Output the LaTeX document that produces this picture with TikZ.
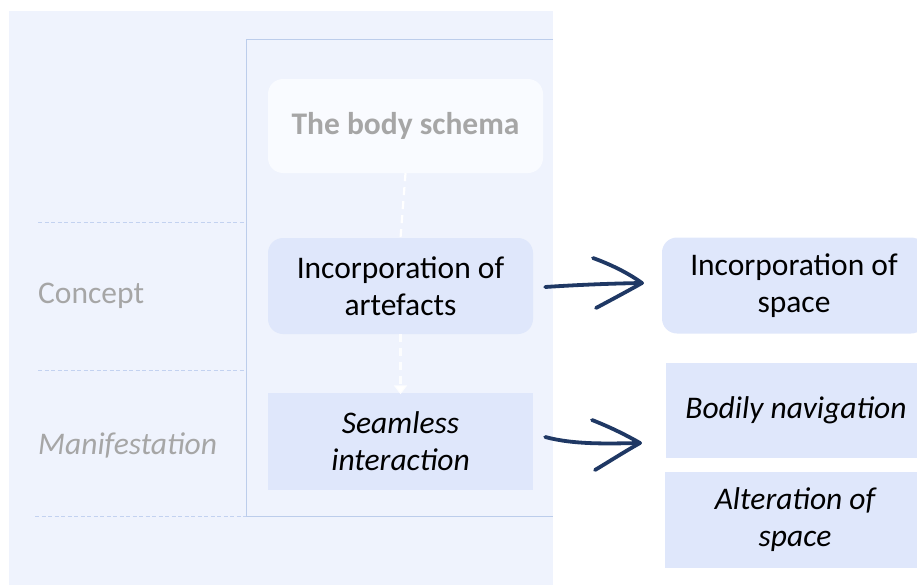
\documentclass[tikz,border=0pt]{standalone}
\usepackage{fontspec}
\setmainfont{Carlito}
\usetikzlibrary{arrows.meta}

\definecolor{panelbg}{HTML}{EFF3FD}
\definecolor{boxfill}{HTML}{DFE7FB}
\definecolor{topfill}{HTML}{F9FBFF}
\definecolor{frameline}{HTML}{BCCDEB}
\definecolor{guide}{HTML}{C3D2F0}
\definecolor{labelgray}{HTML}{A6A6A6}
\definecolor{navy}{HTML}{1F3864}

\tikzset{
  box/.style={fill=boxfill, draw=none, minimum width=265pt, minimum height=96pt,
    align=center, inner sep=0pt, font=\fontsize{31.5pt}{37.5pt}\selectfont},
  roundbox/.style={box, rounded corners=15pt},
  sidelabel/.style={anchor=west, text=labelgray, inner sep=0pt,
    font=\fontsize{31.5pt}{37pt}\selectfont},
  guideline/.style={draw=guide, line width=0.9pt, dash pattern=on 4pt off 2.5pt},
  frame/.style={draw=frameline, line width=1pt},
  flowlink/.style={draw=white, line width=2.2pt, dash pattern=on 8pt off 6pt},
  handarrow/.style={draw=navy, line width=3.8pt, line cap=round, line join=round},
}

\begin{document}
\begin{tikzpicture}[x=1pt, y=-1pt]
  \useasboundingbox (0,0) rectangle (917,586);

  % shaded panel behind the two-level scheme
  \fill[panelbg] (9,11) rectangle (553,585);

  % frame around the main column
  \draw[frame] (553,40) -- (246,40) -- (246,516) -- (553,516);

  % level separators on the left
  \draw[guideline] (38,222) -- (246,222);
  \draw[guideline] (38,370) -- (246,370);
  \draw[guideline] (35,516) -- (246,516);

  % level labels
  \node[sidelabel] (lconcept) at (38,296) {Concept};
  \node[sidelabel] (lmanif) at (38,445) {\itshape Manifestation};

  % main column
  \node[roundbox, fill=topfill, minimum width=275pt, minimum height=94pt,
        text=labelgray, font=\bfseries\fontsize{31.5pt}{37.5pt}\selectfont]
        (body) at (405.5,126) {The body schema};
  \node[roundbox] (art) at (400.5,286) {Incorporation of\\artefacts};
  \node[box, minimum height=97pt] (sea) at (400.5,441) {\itshape Seamless\\\itshape interaction};

  % right column (runs on past the right edge)
  \node[roundbox, minimum width=264pt] (spc) at (794,285.5) {Incorporation of\\space};
  \node[box, minimum width=260pt, minimum height=95pt] (nav) at (796,410) {\itshape Bodily navigation};
  \node[box, minimum width=260pt, minimum height=96pt] (alt) at (795,519.5) {\itshape Alteration of\\\itshape space};

  % dashed links inside the column
  \draw[flowlink] (body.south) -- (art.north);
  \draw[flowlink, draw opacity=0.85, -{Triangle[length=9pt,width=13pt,fill=white]}]
    (art.south) -- ([yshift=-2pt]sea.north);

  % hand-drawn arrows to the right column
  \coordinate (tip1) at (642,283);
  \coordinate (tip2) at (640,443);
  \draw[handarrow] ([xshift=12pt,yshift=-1pt]art.east) .. controls (575,285) and (610,283.5) .. (tip1);
  \draw[handarrow] (593,258) .. controls (612,265) and (628,273) .. (tip1)
                   .. controls (626,292) and (611,300) .. (596,308);
  \draw[handarrow] ([xshift=12pt,yshift=4pt]sea.east) .. controls (575,445) and (610,443.5) .. (tip2);
  \draw[handarrow] (592,420) .. controls (610,427) and (626,435) .. (tip2)
                   .. controls (624,452) and (610,461) .. (595,470);
\end{tikzpicture}
\end{document}
